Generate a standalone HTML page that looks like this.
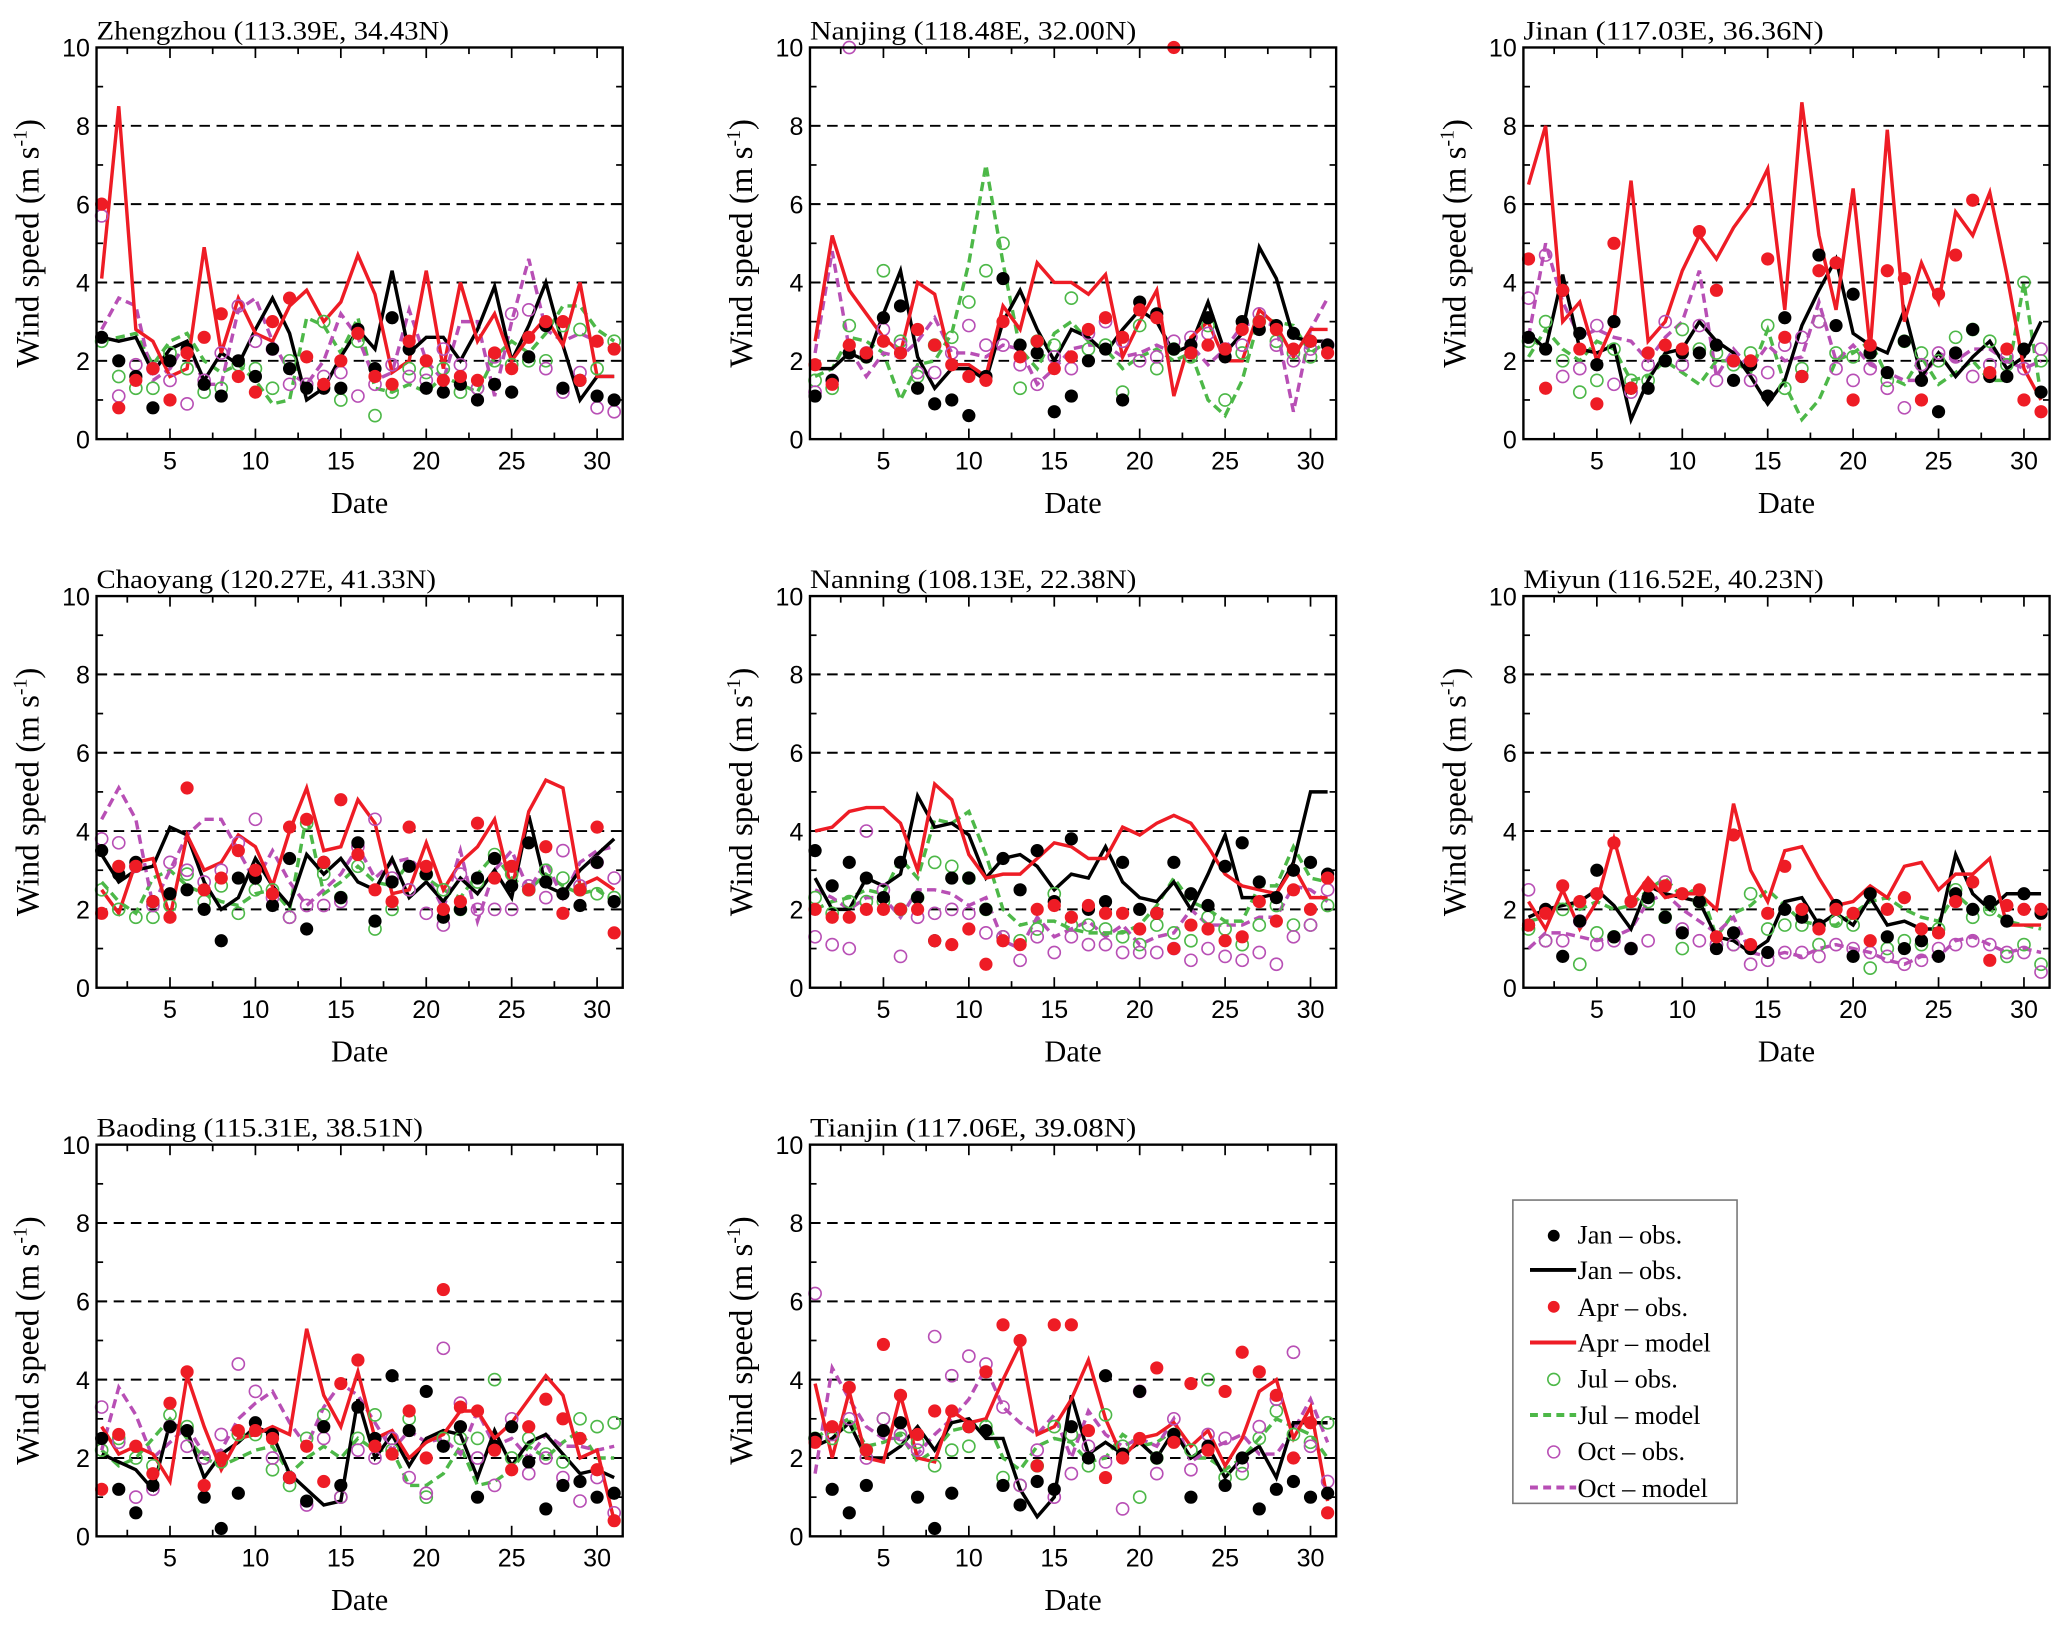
<!DOCTYPE html>
<html><head><meta charset="utf-8">
<style>
html,body{margin:0;padding:0;background:#fff;}
svg{display:block;}
.tk{font-family:"Liberation Sans",Arial,sans-serif;font-size:19px;fill:#000;}
.sf{font-family:"Liberation Serif","Times New Roman",serif;fill:#000;}
</style></head>
<body>
<svg id="chart" width="2067" height="1626" viewBox="0 0 1567 1233" xmlns="http://www.w3.org/2000/svg">
<g id="legend">
<rect x="1147" y="910" width="170" height="230" fill="#fff" stroke="#777" stroke-width="1.2"/>
<circle cx="1178" cy="937" r="4.5" fill="#000"/>
<text class="sf" x="1196" y="943" font-size="20">Jan – obs.</text>
<line x1="1160" y1="963" x2="1195" y2="963" stroke="#000" stroke-width="3"/>
<text class="sf" x="1196" y="970" font-size="20">Jan – obs.</text>
<circle cx="1178" cy="991" r="4.5" fill="#ee1c25"/>
<text class="sf" x="1196" y="998" font-size="20">Apr – obs.</text>
<line x1="1160" y1="1018" x2="1195" y2="1018" stroke="#ee1c25" stroke-width="3"/>
<text class="sf" x="1196" y="1025" font-size="20">Apr – model</text>
<circle cx="1178" cy="1046" r="4.5" fill="none" stroke="#4db848" stroke-width="1.2"/>
<text class="sf" x="1196" y="1052" font-size="20">Jul – obs.</text>
<line x1="1160" y1="1073" x2="1195" y2="1073" stroke="#4db848" stroke-width="3" stroke-dasharray="6 4"/>
<text class="sf" x="1196" y="1080" font-size="20">Jul – model</text>
<circle cx="1178" cy="1101" r="4.5" fill="none" stroke="#b84fb5" stroke-width="1.2"/>
<text class="sf" x="1196" y="1107" font-size="20">Oct – obs.</text>
<line x1="1160" y1="1128" x2="1195" y2="1128" stroke="#b84fb5" stroke-width="3" stroke-dasharray="6 4"/>
<text class="sf" x="1196" y="1135" font-size="20">Oct – model</text>
</g>
</svg>
<script>
const stations = ["Zhengzhou (113.39E, 34.43N)","Nanjing (118.48E, 32.00N)","Jinan (117.03E, 36.36N)","Chaoyang (120.27E, 41.33N)","Nanning (108.13E, 22.38N)","Miyun (116.52E, 40.23N)","Baoding (115.31E, 38.51N)","Tianjin (117.06E, 39.08N)"];
const xTicks = [5,10,15,20,25,30];
const yTicks = [0,2,4,6,8,10];
const gridValues = [2,4,6,8];
// series per station: janObs, janModel, aprObs, aprModel, julObs, julModel, octObs, octModel
const janObs = [
[2.6,2.0,1.6,0.8,2.0,2.3,1.4,1.1,2.0,1.6,2.3,1.8,1.3,1.3,1.3,2.8,1.8,3.1,2.3,1.3,1.2,1.4,1.0,1.4,1.2,2.1,2.9,1.3,1.5,1.1,1.0],
[1.1,1.5,2.2,2.1,3.1,3.4,1.3,0.9,1.0,0.6,1.6,4.1,2.4,2.2,0.7,1.1,2.0,2.3,1.0,3.5,3.2,2.3,2.4,3.1,2.1,3.0,2.8,2.9,2.7,2.5,2.4],
[2.6,2.3,3.8,2.7,1.9,3.0,1.3,1.3,2.0,2.2,2.2,2.4,1.5,1.9,1.1,3.1,1.6,4.7,2.9,3.7,2.2,1.7,2.5,1.5,0.7,2.2,2.8,1.6,1.6,2.3,1.2],
[3.5,2.9,3.2,2.2,2.4,2.5,2.0,1.2,2.8,2.8,2.1,3.3,1.5,3.2,2.3,3.7,1.7,2.7,3.1,2.9,1.8,2.0,2.8,3.3,2.6,3.7,2.7,2.4,2.1,3.2,2.2],
[3.5,2.6,3.2,2.8,2.3,3.2,2.3,1.2,2.8,2.8,2.0,3.3,2.5,3.5,2.2,3.8,2.0,2.2,3.2,2.0,1.9,3.2,2.4,2.1,3.1,3.7,2.7,2.3,3.0,3.2,2.9],
[1.6,2.0,0.8,1.7,3.0,1.3,1.0,2.3,1.8,1.4,2.2,1.0,1.4,1.0,0.9,2.0,1.8,1.6,2.1,0.8,2.4,1.3,1.0,1.2,0.8,2.4,2.0,2.2,1.7,2.4,1.9],
[2.5,1.2,0.6,1.3,2.8,2.7,1.0,0.2,1.1,2.9,2.6,1.5,0.9,2.8,1.3,3.3,2.5,4.1,2.7,3.7,2.3,2.8,1.0,2.3,2.8,1.9,0.7,1.3,1.4,1.0,1.1],
[2.5,1.2,0.6,1.3,2.7,2.9,1.0,0.2,1.1,2.8,2.7,1.3,0.8,1.4,1.2,2.8,2.0,4.1,2.1,3.7,2.0,2.6,1.0,2.3,1.3,2.0,0.7,1.2,1.4,1.0,1.1]];
const janModel = [
[2.6,2.5,2.6,1.7,2.3,2.5,1.5,2.2,1.9,2.8,3.6,2.7,1.0,1.3,2.1,2.8,2.3,4.3,2.2,2.6,2.6,2.0,2.8,3.9,2.0,2.9,4.0,2.4,1.0,1.6,1.6],
[1.8,1.8,2.2,2.0,3.2,4.3,2.1,1.3,1.8,1.8,1.5,3.0,3.8,2.8,2.0,2.8,2.6,2.2,2.8,3.3,3.0,2.2,2.4,3.5,2.2,2.7,4.9,4.1,2.6,2.5,2.5],
[2.7,2.3,4.2,2.3,2.2,2.4,0.5,1.5,2.2,2.3,3.0,2.5,2.2,1.6,0.9,1.5,2.9,3.8,4.6,2.7,2.4,2.2,3.3,1.6,2.2,1.6,2.1,2.5,1.8,2.1,3.0],
[3.4,2.7,3.0,3.1,4.1,3.9,2.7,2.0,2.3,3.3,2.6,2.1,3.4,2.9,3.3,2.7,2.5,3.3,2.3,2.7,2.2,2.8,2.4,3.0,2.3,4.4,2.6,2.4,3.0,3.4,3.8],
[2.8,2.0,2.0,2.8,2.6,2.9,4.9,4.1,4.2,3.9,2.8,3.3,3.4,3.1,2.5,2.9,2.8,3.6,2.7,2.3,2.2,2.7,2.0,2.9,3.9,2.3,2.3,2.4,3.2,5.0,5.0],
[1.8,2.0,2.1,2.2,2.5,2.1,1.5,2.6,2.4,2.3,2.2,1.3,1.2,0.9,1.2,2.2,2.3,1.6,1.9,1.6,2.3,1.6,1.7,1.5,1.5,3.4,2.4,2.0,2.4,2.4,2.4],
[2.1,1.9,1.7,1.2,2.9,2.7,1.5,2.1,2.4,2.8,2.6,1.6,1.2,0.8,0.9,3.5,2.0,2.6,1.8,2.5,2.7,2.6,1.5,2.7,1.8,2.4,2.6,2.1,1.6,1.7,1.5],
[2.3,2.5,2.9,2.0,2.0,2.3,2.8,2.2,2.9,3.0,2.5,2.5,1.2,0.5,1.0,3.6,2.1,2.4,2.1,2.4,2.0,2.7,2.0,2.3,1.5,2.0,2.3,1.5,2.9,2.9,2.9]];
const aprObs = [
[6.0,0.8,1.5,1.8,1.0,2.2,2.6,3.2,1.6,1.2,3.0,3.6,2.1,1.4,2.0,2.7,1.6,1.4,2.5,2.0,1.5,1.6,1.5,2.2,1.8,2.6,3.0,3.0,1.5,2.5,2.3],
[1.9,1.4,2.4,2.2,2.5,2.2,2.8,2.4,1.9,1.6,1.5,3.0,2.1,2.5,1.8,2.1,2.8,3.1,2.6,3.3,3.1,10,2.2,2.4,2.3,2.8,3.0,2.8,2.3,2.5,2.2],
[4.6,1.3,3.8,2.3,0.9,5.0,1.3,2.2,2.4,2.3,5.3,3.8,2.0,2.0,4.6,2.6,1.6,4.3,4.5,1.0,2.4,4.3,4.1,1.0,3.7,4.7,6.1,1.7,2.3,1.0,0.7],
[1.9,3.1,3.1,2.2,1.8,5.1,2.5,2.8,3.5,3.0,2.4,4.1,4.3,3.2,4.8,3.4,2.5,2.2,4.1,3.1,2.0,2.2,4.2,2.8,3.1,2.5,3.6,1.9,2.5,4.1,1.4],
[2.0,1.8,1.8,2.0,2.0,2.0,2.0,1.2,1.1,1.5,0.6,1.2,1.1,2.0,2.1,1.8,2.1,1.9,1.9,1.5,1.9,1.0,1.6,1.5,1.2,1.3,2.2,1.7,2.5,2.0,2.8],
[1.6,1.9,2.6,2.2,2.4,3.7,2.2,2.6,2.6,2.4,2.5,1.3,3.9,1.1,1.9,3.1,2.0,1.5,2.0,1.9,1.2,2.0,2.3,1.5,1.4,2.2,2.7,0.7,2.1,2.0,2.0],
[1.2,2.6,2.3,1.6,3.4,4.2,1.3,2.0,2.7,2.7,2.5,1.5,2.3,1.4,3.9,4.5,2.3,2.1,3.2,2.0,6.3,3.3,3.2,2.2,1.7,2.8,3.5,3.0,2.5,1.7,0.4],
[2.4,2.8,3.8,2.2,4.9,3.6,2.6,3.2,3.2,2.8,4.2,5.4,5.0,1.8,5.4,5.4,2.7,1.5,2.0,2.5,4.3,2.4,3.9,2.2,3.7,4.7,4.2,3.6,2.0,2.9,0.6]];
const aprModel = [
[4.1,8.5,2.8,2.5,1.6,1.8,4.9,2.2,3.6,2.7,2.5,3.4,3.8,3.0,3.5,4.7,3.7,1.7,2.0,4.3,1.8,4.0,2.5,3.2,2.0,2.6,3.1,2.4,4.0,1.6,1.6],
[2.5,5.2,3.8,3.2,2.6,2.2,4.0,3.7,1.9,1.9,1.6,3.4,2.8,4.5,4.0,4.0,3.7,4.2,2.1,3.0,3.8,1.1,2.6,3.0,2.0,2.0,3.3,2.9,2.1,2.8,2.8],
[6.5,8.0,3.0,3.5,2.0,3.0,6.6,2.5,3.0,4.3,5.2,4.6,5.4,6.0,6.9,3.3,8.6,5.2,3.3,6.4,2.3,7.9,3.0,4.5,3.5,5.8,5.2,6.3,4.2,1.8,1.0],
[2.5,1.9,3.2,3.3,1.8,3.9,3.0,3.2,3.9,3.6,2.6,4.0,5.1,3.5,3.6,4.8,4.2,2.4,2.5,3.7,2.5,3.2,3.6,4.3,2.5,4.5,5.3,5.1,2.6,2.8,2.5],
[4.0,4.1,4.5,4.6,4.6,4.2,3.0,5.2,4.8,3.4,2.8,2.9,2.9,3.3,3.7,3.6,3.3,3.3,4.1,3.9,4.2,4.4,4.2,3.6,2.9,2.6,2.5,2.4,3.1,2.3,2.3],
[2.2,1.5,2.5,1.5,2.2,3.8,2.2,2.8,2.3,2.4,2.4,2.0,4.7,3.0,2.2,3.5,3.6,2.8,2.1,2.2,2.6,2.3,3.1,3.2,2.5,2.9,2.9,3.3,1.6,1.6,1.6],
[2.8,2.1,2.3,2.1,1.4,4.1,2.8,1.7,2.5,2.6,2.8,2.6,5.3,3.6,2.8,4.2,2.5,2.7,2.0,2.4,2.6,3.2,3.2,2.5,2.9,3.5,4.1,3.6,2.0,2.2,0.4],
[3.9,2.0,3.7,2.0,1.9,3.6,2.0,1.9,3.2,2.9,3.0,4.0,4.9,2.6,2.8,3.5,4.5,3.0,2.0,2.5,2.6,2.9,2.3,2.7,1.8,2.5,3.7,4.0,2.5,3.3,0.9]];
const julObs = [
[2.5,1.6,1.3,1.3,2.2,1.8,1.2,1.3,1.9,1.8,1.3,2.0,1.4,3.0,1.0,2.5,0.6,1.2,1.8,1.7,1.8,1.2,1.3,2.0,1.9,2.0,2.0,2.9,2.8,1.8,2.5],
[1.5,1.3,2.9,2.1,4.3,2.5,1.6,2.4,2.6,3.5,4.3,5.0,1.3,2.5,2.4,3.6,2.3,2.4,1.2,2.9,1.8,2.3,2.1,2.9,1.0,2.2,3.0,2.5,2.2,2.1,2.4],
[2.5,3.0,2.0,1.2,1.5,2.3,1.5,1.5,2.0,2.8,2.3,2.2,1.9,2.2,2.9,1.3,1.8,3.0,2.2,2.1,2.2,1.5,2.5,2.2,2.0,2.6,2.8,2.5,1.9,4.0,2.0],
[2.5,2.0,1.8,1.8,2.1,2.9,2.2,2.6,1.9,2.5,2.5,1.8,4.2,2.9,2.3,3.1,1.5,2.0,2.5,2.9,2.5,2.0,2.7,3.4,2.9,2.5,3.0,2.8,2.5,2.4,2.3],
[2.3,1.9,2.2,2.2,2.2,2.0,2.3,3.2,3.1,2.8,2.0,1.3,1.2,1.5,2.4,1.6,1.6,1.5,1.3,1.1,1.6,1.4,1.2,1.8,1.5,1.1,1.6,2.1,1.6,1.6,2.1],
[1.5,1.2,2.0,0.6,1.4,1.3,1.0,2.2,1.8,1.0,2.2,1.1,1.1,2.4,1.5,1.6,1.6,1.1,1.7,1.6,0.5,1.0,1.2,1.1,1.5,2.5,1.8,2.0,0.8,1.1,0.6],
[2.2,2.5,2.0,1.8,3.1,2.8,2.0,1.9,2.6,2.6,1.7,1.3,2.5,3.1,1.0,2.5,3.1,2.2,3.0,1.0,2.5,2.5,2.5,4.0,2.0,2.5,2.1,1.9,3.0,2.8,2.9],
[2.5,2.5,2.8,2.2,3.0,2.5,2.4,1.8,2.2,2.3,2.8,1.5,1.3,1.8,2.8,2.6,1.8,3.1,2.3,1.0,2.0,2.6,2.2,4.0,1.5,1.6,2.5,3.2,2.6,2.4,2.9]];
const julModel = [
[2.5,2.6,2.7,1.9,2.5,2.7,2.0,1.7,1.9,1.5,0.9,1.0,3.1,2.9,2.2,3.1,1.3,1.2,1.4,1.2,1.6,1.4,1.2,2.1,2.5,2.2,2.7,3.4,3.4,2.8,2.5],
[1.6,1.8,2.6,2.5,2.2,1.0,1.9,2.0,2.7,4.5,7.0,4.5,2.3,1.8,2.7,3.0,2.5,2.3,1.8,2.1,2.3,2.0,2.2,1.0,0.6,1.5,3.1,3.0,2.9,2.2,2.5],
[2.1,2.8,2.3,2.0,2.5,2.3,1.5,1.6,2.0,1.7,1.4,2.0,2.0,1.7,2.8,1.4,0.5,1.0,2.0,2.2,2.5,1.6,1.4,2.1,1.4,1.7,2.0,1.5,1.5,4.0,1.1],
[2.7,2.2,1.9,2.8,3.0,2.6,2.4,2.2,2.1,2.4,2.5,2.0,4.4,2.4,2.7,3.1,2.7,2.6,3.2,2.8,2.5,2.3,2.9,3.4,2.8,2.5,2.9,2.6,2.4,2.5,2.2],
[2.0,2.2,2.3,2.5,2.4,3.3,2.8,4.3,4.2,4.5,3.4,2.0,1.6,1.7,1.7,1.5,1.4,1.4,1.4,1.6,2.1,2.8,2.2,2.0,1.7,1.7,2.6,2.6,3.6,2.8,2.7],
[1.7,1.8,2.2,2.0,2.2,2.0,2.1,2.5,2.8,2.3,2.6,1.3,1.9,2.1,2.5,2.1,1.7,1.6,1.6,1.9,2.2,2.3,2.0,1.8,1.7,2.4,2.0,2.0,1.7,1.6,1.5],
[2.2,1.8,2.0,2.5,3.0,2.5,2.0,1.8,2.0,2.2,2.3,1.6,2.0,2.3,2.0,2.5,2.2,2.2,1.3,1.3,1.6,2.3,1.3,1.4,1.7,2.3,2.0,2.4,2.7,2.0,2.0],
[2.5,2.8,3.0,2.3,2.4,2.6,1.9,2.2,2.7,2.8,3.0,2.0,1.7,2.3,2.5,2.4,1.9,2.0,2.6,2.3,2.4,2.7,2.0,2.0,1.7,2.0,2.5,3.0,2.8,2.6,2.0]];
const octObs = [
[5.7,1.1,1.9,1.8,1.5,0.9,1.5,2.2,3.4,2.5,2.3,1.4,1.4,1.6,1.7,1.1,1.4,1.9,1.6,1.5,2.3,1.9,1.3,2.1,3.2,3.3,1.8,1.2,1.7,0.8,0.7],
[1.2,1.5,10,2.2,2.8,2.4,1.7,1.7,2.2,2.9,2.4,2.4,1.9,1.4,2.1,1.8,2.7,3.0,2.5,2.0,2.1,2.5,2.6,2.7,2.3,2.4,3.2,2.4,2.0,2.3,2.4],
[3.6,4.7,1.6,1.8,2.9,1.4,1.2,1.9,3.0,1.9,2.9,1.5,2.0,1.5,1.7,2.4,2.6,3.0,1.8,1.5,1.8,1.3,0.8,1.9,2.2,2.1,1.6,1.9,2.1,1.8,2.3],
[3.8,3.7,3.1,2.1,3.2,3.0,2.7,3.0,3.7,4.3,2.3,1.8,2.1,2.1,2.2,3.6,4.3,2.8,2.5,1.9,1.6,2.9,2.0,2.0,2.0,2.6,2.3,3.5,2.6,3.2,2.8],
[1.3,1.1,1.0,4.0,2.5,0.8,1.8,1.9,2.0,1.9,1.4,1.3,0.7,1.3,0.9,1.3,1.1,1.1,0.9,0.9,0.9,1.0,0.7,1.0,0.8,0.7,0.9,0.6,1.3,1.6,2.5],
[2.5,1.2,1.2,1.7,1.1,1.2,1.0,1.2,2.7,1.5,1.2,1.1,1.1,0.6,0.7,0.9,0.9,0.8,1.1,1.0,0.9,0.8,0.6,0.7,1.0,1.1,1.2,1.1,0.9,0.9,0.4],
[3.3,2.4,1.0,1.2,2.8,2.3,2.0,2.6,4.4,3.7,2.0,1.5,0.8,2.5,1.0,2.2,2.0,2.5,1.5,1.1,4.8,3.4,2.0,1.3,3.0,1.6,2.0,1.5,0.9,1.5,0.6],
[6.2,2.6,3.0,2.0,3.0,2.6,2.2,5.1,4.1,4.6,4.4,3.3,1.3,2.2,1.0,1.6,2.3,1.9,0.7,3.7,1.6,3.0,1.7,2.6,2.5,1.8,2.8,3.5,4.7,2.3,1.4]];
const octModel = [
[2.8,3.6,3.4,1.5,1.8,2.5,1.4,1.4,3.3,3.6,2.5,1.7,1.4,2.0,3.2,2.6,1.5,1.7,3.3,2.0,1.5,3.0,3.0,1.1,3.0,4.6,2.8,2.5,2.7,2.5,2.3],
[2.2,4.8,2.3,1.6,2.2,2.1,2.5,3.1,2.2,2.2,2.1,2.4,2.3,1.4,1.8,2.3,2.4,2.4,2.1,2.2,2.4,2.2,2.4,1.9,2.3,2.9,3.0,2.9,0.7,2.8,3.6],
[2.6,5.0,3.5,2.6,2.8,2.6,2.5,2.0,2.6,3.0,4.3,1.6,2.3,1.8,2.4,2.0,2.1,3.5,2.0,2.4,1.9,1.7,1.5,1.5,2.2,2.0,2.3,2.3,2.0,1.8,2.0],
[4.3,5.1,4.3,2.1,3.0,3.9,4.3,4.3,3.5,2.7,3.5,2.7,2.1,2.5,2.9,3.6,2.8,3.2,3.3,2.9,2.0,3.5,1.7,3.0,3.5,2.5,3.2,2.3,3.2,3.5,3.6],
[2.5,2.3,2.0,2.3,2.3,1.8,2.5,2.5,2.4,2.1,2.3,1.2,1.0,1.8,1.3,1.5,1.7,1.3,1.6,1.1,1.3,1.4,2.0,1.6,1.6,1.6,1.8,1.8,2.6,2.5,2.2],
[1.0,1.4,1.4,1.3,1.2,1.3,1.5,2.2,2.4,2.0,1.7,1.4,1.8,0.9,0.8,0.9,0.8,1.0,1.1,1.0,0.9,0.7,0.6,0.8,0.8,1.2,1.3,1.1,0.9,1.0,0.9],
[2.2,3.8,3.1,2.0,2.4,2.8,2.1,2.2,3.0,3.4,3.7,2.9,2.3,3.3,3.9,3.6,2.9,2.2,2.7,2.4,2.5,2.1,3.2,2.3,2.5,2.0,2.6,2.3,2.3,2.2,2.3],
[1.6,4.3,3.5,2.8,2.5,2.5,2.1,2.6,3.0,3.5,4.3,3.3,2.9,2.6,3.1,2.0,3.2,2.6,2.3,2.5,2.3,3.0,1.9,2.2,2.4,2.6,2.1,2.1,2.7,3.5,2.4]];

const NS="http://www.w3.org/2000/svg";
const svg=document.getElementById('chart');
function mk(tag,attrs,parent){const e=document.createElementNS(NS,tag);for(const k in attrs)e.setAttribute(k,attrs[k]);(parent||svg).appendChild(e);return e;}
const colLeft=[73,614,1155], rowTop=[36,452,868], W=399, H=297;
const RED="#ee1c25", GRN="#4db848", PUR="#b84fb5";
stations.forEach((name,i)=>{
  const L=colLeft[i%3], T=rowTop[Math.floor(i/3)], B=T+H, R=L+W;
  const sx=d=>L+(d-0.7)/30.8*W;
  const sy=v=>B-v/10*H;
  const g=mk('g',{});
  
  
  // grid
  gridValues.forEach(v=>{const l=mk('line',{x1:L,x2:R,y1:sy(v),y2:sy(v),stroke:'#000','stroke-width':1.5,'stroke-dasharray':'8 5'},g);
    
    });
  // ticks
  for(let d=2.5;d<=30;d+=2.5){const len=(d%5===0)?8:5;
    mk('line',{x1:sx(d),x2:sx(d),y1:B,y2:B-len,stroke:'#000','stroke-width':1.3},g);
    mk('line',{x1:sx(d),x2:sx(d),y1:T,y2:T+len,stroke:'#000','stroke-width':1.3},g);}
  for(let v=1;v<10;v++){const len=(v%2===0)?8:5;
    mk('line',{x1:L,x2:L+len,y1:sy(v),y2:sy(v),stroke:'#000','stroke-width':1.3},g);
    mk('line',{x1:R,x2:R-len,y1:sy(v),y2:sy(v),stroke:'#000','stroke-width':1.3},g);}
  xTicks.forEach(d=>{const t=mk('text',{x:sx(d),y:B+23,'text-anchor':'middle',class:'tk'},g);t.textContent=d;
    
    });
  yTicks.forEach(v=>{const t=mk('text',{x:L-5,y:sy(v)+7,'text-anchor':'end',class:'tk'},g);t.textContent=v;
    
    });
  const title=mk('text',{x:L,y:T-6,class:'sf','font-size':20,textLength:name.length*9.9,lengthAdjust:'spacingAndGlyphs'},g);title.textContent=name;
  
  
  const xl=mk('text',{x:L+W/2,y:B+56,'text-anchor':'middle',class:'sf','font-size':23},g);xl.textContent='Date';
  
  
  const yl=mk('text',{x:0,y:0,'text-anchor':'middle',class:'sf','font-size':25,transform:`translate(${L-44},${T+H/2}) rotate(-90)`},g);
  yl.innerHTML='Wind speed (m s<tspan dy="-9" font-size="15">-1</tspan><tspan dy="9">)</tspan>';
  
  
  const clip='clip'+i;
  const cp=mk('clipPath',{id:clip},g);mk('rect',{x:L-6,y:T-6,width:W+12,height:H+12},cp);
  const pg=mk('g',{'clip-path':`url(#${clip})`},g);
  function line(arr,color,dash,nm){const p=mk('polyline',{points:arr.map((v,k)=>sx(k+1)+','+sy(v)).join(' '),fill:'none',stroke:color,'stroke-width':2.6,'stroke-linejoin':'miter'},pg);
    if(dash)p.setAttribute('stroke-dasharray',dash);
    
    }
  function dots(arr,color,filled,nm){arr.forEach((v,k)=>{const c=mk('circle',{cx:sx(k+1),cy:sy(v),r:filled?5:4.6,fill:filled?color:'none',stroke:color,'stroke-width':filled?0:1.2},pg);
    
    });}
  line(julModel[i],GRN,'7 4','jul-model-line');
  line(octModel[i],PUR,'7 4','oct-model-line');
  line(janModel[i],'#000',null,'jan-model-line');
  line(aprModel[i],RED,null,'apr-model-line');
  dots(julObs[i],GRN,false,'jul-obs-point');
  dots(octObs[i],PUR,false,'oct-obs-point');
  dots(janObs[i],'#000',true,'jan-obs-point');
  dots(aprObs[i],RED,true,'apr-obs-point');
  mk('rect',{x:L,y:T,width:W,height:H,fill:'none',stroke:'#000','stroke-width':1.8},g);
});
</script>
</body></html>
